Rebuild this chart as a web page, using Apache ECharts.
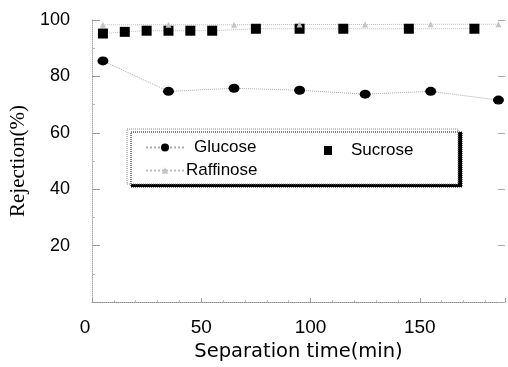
<!DOCTYPE html>
<html>
<head>
<meta charset="utf-8">
<script src="https://cdn.jsdelivr.net/npm/echarts@6/dist/echarts.min.js"></script>
<style>html,body{margin:0;padding:0;background:#fff}#c{width:508px;height:367px}</style>
</head>
<body>
<div id="c"></div>
<script>
const glucoseTime = [5, 35, 65, 95, 125, 155, 186];
const glucose = [85.5, 74.7, 75.8, 75.1, 73.7, 74.7, 71.6];
const sucroseTime = [5, 15, 25, 35, 45, 55, 75, 95, 115, 145, 175];
const sucrose = [95.2, 95.8, 96.2, 96.2, 96.2, 96.2, 96.9, 96.9, 96.9, 96.9, 96.9];
const raffinoseTime = [5, 35, 65, 95, 125, 155, 186];
const raffinose = [98.3, 98.3, 98.3, 98.4, 98.4, 98.5, 98.5];
const xTicks = [0, 50, 100, 150];
const yTicks = [0, 20, 40, 60, 80, 100];

const pair = (xs, ys) => xs.map((x, i) => [x, ys[i]]);
const sans = 'Liberation Sans, Arial, sans-serif';

const chart = echarts.init(document.getElementById('c'));
chart.setOption({
  animation: false,
  backgroundColor: '#fff',
  grid: { left: 92, right: 0, top: 20, bottom: 58 },
  xAxis: {
    type: 'value', min: 0, max: 189, interval: 50,
    name: 'Separation time(min)', nameLocation: 'middle', nameGap: 35,
    nameTextStyle: { fontFamily: 'DejaVu Sans', fontSize: 19.5, color: '#000' },
    axisLine: { lineStyle: { color: '#888', width: 1, type: 'dotted' } },
    axisTick: { inside: true, length: 4, lineStyle: { color: '#999' } },
    minorTick: { show: true, splitNumber: 5, length: 2, lineStyle: { color: '#bbb' } },
    splitLine: { show: false },
    axisLabel: {
      margin: 16, color: '#000', fontFamily: sans, fontSize: 19,
      formatter: v => xTicks.includes(v) ? (v === 0 ? '{z|0}' : String(v)) : '',
      rich: { z: { fontFamily: sans, fontSize: 19, color: '#000', padding: [0, 14, 0, 0] } }
    }
  },
  yAxis: [{
    type: 'value', min: 0, max: 100, interval: 20,
    name: 'Rejection(%)', nameLocation: 'middle', nameGap: 63,
    nameTextStyle: { fontFamily: 'Liberation Serif, Times New Roman, serif', fontSize: 21, color: '#000' },
    axisLine: { lineStyle: { color: '#aaa', width: 1, type: 'dotted' } },
    axisTick: { inside: true, length: 8, lineStyle: { color: '#999' } },
    minorTick: { show: true, splitNumber: 2, length: 3, lineStyle: { color: '#bbb' } },
    splitLine: { show: false },
    axisLabel: {
      margin: 22, color: '#000', fontFamily: sans, fontSize: 18,
      formatter: v => (yTicks.includes(v) && v !== 0) ? String(v) : ''
    }
  }, {
    type: 'value', min: 0, max: 100, interval: 20, position: 'right',
    axisLine: { show: false },
    axisTick: { inside: true, length: 7, lineStyle: { color: '#aaa' } },
    axisLabel: { show: false },
    splitLine: { show: false }
  }],
  graphic: [{
    type: 'rect', z: 1,
    shape: { x: 127, y: 129, width: 331, height: 55 },
    style: { fill: '#fff', stroke: '#888', lineWidth: 1, lineDash: [1, 1],
             shadowColor: '#000', shadowOffsetX: 4, shadowOffsetY: 3, shadowBlur: 0 }
  }],
  legend: [
    { data: ['Glucose'], left: 140, top: 134, itemWidth: 38, itemHeight: 10, itemGap: 0,
      textStyle: { fontFamily: sans, fontSize: 17, color: '#000', padding: [0, 0, 0, 5] } },
    { data: [{ name: 'Sucrose', icon: 'rect' }], left: 319, top: 137, itemWidth: 8, itemHeight: 9,
      textStyle: { fontFamily: sans, fontSize: 17, color: '#000', padding: [0, 0, 0, 14] } },
    { data: ['Raffinose'], left: 140, top: 157, itemWidth: 38, itemHeight: 8,
      textStyle: { fontFamily: sans, fontSize: 17, color: '#000', padding: [0, 0, 0, -3] } }
  ],
  series: [
    { name: 'Glucose', type: 'line', data: pair(glucoseTime, glucose),
      symbol: 'circle', symbolSize: [11, 9], itemStyle: { color: '#000' },
      lineStyle: { color: '#aaa', width: 1, type: 'dotted' } },
    { name: 'Sucrose', type: 'line', data: pair(sucroseTime, sucrose),
      symbol: 'rect', symbolSize: [10, 10], itemStyle: { color: '#000' },
      lineStyle: { color: '#bbb', width: 1, type: 'dotted' } },
    { name: 'Raffinose', type: 'line', data: pair(raffinoseTime, raffinose),
      symbol: 'triangle', symbolSize: 6, itemStyle: { color: '#c4c4c4' },
      lineStyle: { color: '#bbb', width: 1, type: 'dotted' } }
  ]
});
</script>
</body>
</html>
